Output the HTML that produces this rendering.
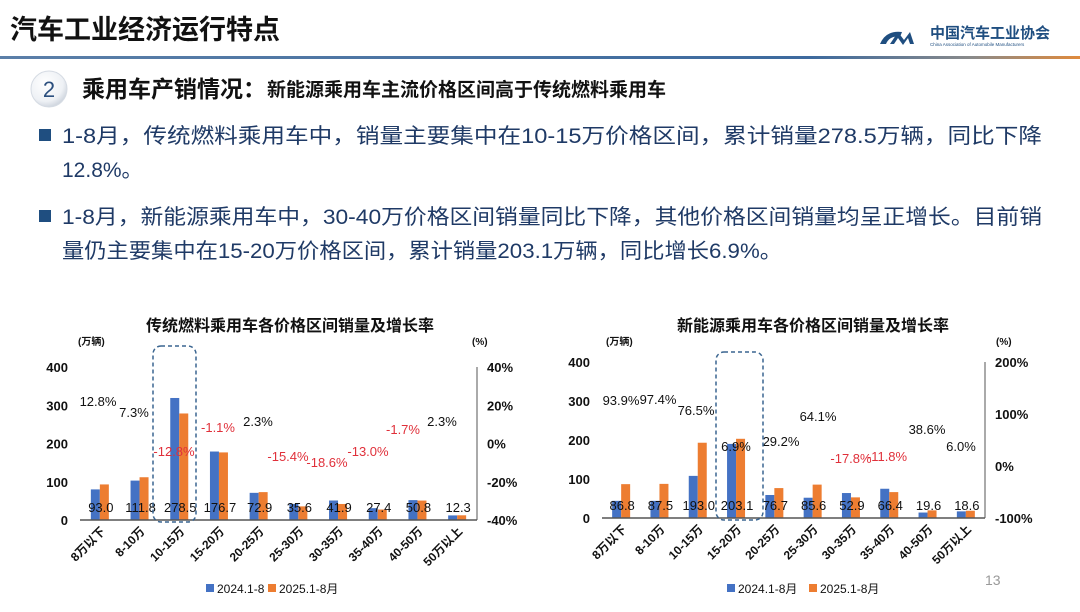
<!DOCTYPE html>
<html><head><meta charset="utf-8">
<style>
html,body{margin:0;padding:0;background:#fff;}
body{width:1080px;height:607px;overflow:hidden;font-family:"Liberation Sans","Noto Sans CJK SC",sans-serif;}
</style></head>
<body>
<svg id="s" width="1080" height="607" viewBox="0 0 1080 607" xmlns="http://www.w3.org/2000/svg" font-family="Liberation Sans, Noto Sans CJK SC, sans-serif">
<defs>
<linearGradient id="lg" x1="0" x2="1" y1="0" y2="0">
<stop offset="0" stop-color="#5b7fa8"/><stop offset="0.75" stop-color="#3d6a9e"/><stop offset="0.9" stop-color="#8a8a8a"/><stop offset="1" stop-color="#e08a3c"/></linearGradient>
<radialGradient id="cg" cx="0.4" cy="0.35" r="0.7"><stop offset="0" stop-color="#ffffff"/><stop offset="0.7" stop-color="#eef1f5"/><stop offset="1" stop-color="#c9d0da"/></radialGradient>
</defs>
<text x="10" y="39" font-size="27" font-weight="bold" fill="#111">汽车工业经济运行特点</text>
<path d="M880 44 q6 -14 22 -12 l-2 5 q-10 -2 -14 7 z M890 44 l8 -12 l6 8 l6 -8 l4 12 l-4 0 l-2 -6 l-5 7 l-5 -7 l-4 6 z" fill="#1f4e80"/>
<text x="930" y="38" font-size="15" font-weight="bold" fill="#1f4e80">中国汽车工业协会</text>
<text x="930" y="46" font-size="4.5" fill="#1f4e80">China Association of Automobile Manufacturers</text>
<rect x="0" y="56" width="1080" height="3" fill="url(#lg)"/>
<circle cx="49" cy="89" r="18" fill="url(#cg)" stroke="#d5dbe3"/>
<text x="49" y="97" font-size="22" fill="#2b4f7e" text-anchor="middle">2</text>
<text x="82" y="97" font-size="23" font-weight="bold" fill="#111">乘用车产销情况：</text>
<text x="267" y="96" font-size="19" font-weight="bold" fill="#111">新能源乘用车主流价格区间高于传统燃料乘用车</text>
<g fill="#1f3a66" font-size="21">
<rect x="39" y="129" width="12" height="12" fill="#1f4e80"/>
<text x="62" y="143" textLength="980" lengthAdjust="spacingAndGlyphs">1-8月，传统燃料乘用车中，销量主要集中在10-15万价格区间，累计销量278.5万辆，同比下降</text>
<text x="62" y="177">12.8%。</text>
<rect x="39" y="210" width="12" height="12" fill="#1f4e80"/>
<text x="62" y="224" textLength="980" lengthAdjust="spacingAndGlyphs">1-8月，新能源乘用车中，30-40万价格区间销量同比下降，其他价格区间销量均呈正增长。目前销</text>
<text x="62" y="258" textLength="720" lengthAdjust="spacingAndGlyphs">量仍主要集中在15-20万价格区间，累计销量203.1万辆，同比增长6.9%。</text>
</g>
<g id="c"></g>
<text x="985" y="585" font-size="14" fill="#999">13</text>
</svg>
<script>
const NS="http://www.w3.org/2000/svg";const g=document.getElementById("c");
function el(t,a,txt){const e=document.createElementNS(NS,t);for(const k in a)e.setAttribute(k,a[k]);if(txt!=null)e.textContent=txt;g.appendChild(e);return e;}
const cats=["8万以下","8-10万","10-15万","15-20万","20-25万","25-30万","30-35万","35-40万","40-50万","50万以上"];
function chart(o){
 const {x0,x1,y0,y400}=o;const cw=(x1-x0)/10;const s=(y0-y400)/400;
 el("text",{x:o.tx,y:331,"font-size":16,"font-weight":"bold","text-anchor":"middle",fill:"#111"},o.title);
 el("text",{x:o.ux,y:345,"font-size":10,"font-weight":"bold",fill:"#111"},"(万辆)");
 el("text",{x:o.px,y:345,"font-size":10,"font-weight":"bold",fill:"#111"},"(%)");
 [0,100,200,300,400].forEach(v=>el("text",{x:x0-12,y:y0-v*s+5,"font-size":13,"font-weight":"bold","text-anchor":"end",fill:"#111"},v));
 const n=o.rl.length-1;
 o.rl.forEach((t,i)=>el("text",{x:x1+10,y:y400+i*(y0-y400)/n+5,"font-size":13,"font-weight":"bold",fill:"#111"},t));
 el("line",{x1:x1,y1:y400,x2:x1,y2:y0,stroke:"#555"});
 for(let i=0;i<10;i++){const c=x0+cw*(i+0.5);
  el("rect",{x:c-9,y:y0-o.b[i]*s,width:9,height:o.b[i]*s,fill:"#4472c4"});
  el("rect",{x:c,y:y0-o.r[i]*s,width:9,height:o.r[i]*s,fill:"#ed7d31"});
  el("text",{x:c+1,y:o.vy,"font-size":13,"text-anchor":"middle",fill:"#111"},o.r[i].toFixed(1));
  const p=o.p[i];el("text",{x:p[0],y:p[1]+5,"font-size":13,"text-anchor":"middle",fill:p[2].startsWith("-")?"#e0303a":"#111"},p[2]);
  el("text",{x:0,y:0,"font-size":12,"font-weight":"bold","text-anchor":"end",fill:"#111",transform:`translate(${c+6},${y0+12}) rotate(-45)`},cats[i]);
 }
 el("line",{x1:x0,y1:y0,x2:x1,y2:y0,stroke:"#555","stroke-width":1.5});
 el("rect",{x:o.bx[0],y:o.bx[1],width:o.bx[2],height:o.bx[3],rx:8,fill:"none",stroke:"#3a6590","stroke-width":1.5,"stroke-dasharray":"4,3"});
 el("rect",{x:o.lx,y:584,width:8,height:8,fill:"#4472c4"});
 el("text",{x:o.lx+11,y:593,"font-size":12,fill:"#111"},o.l1);
 el("rect",{x:o.lx2,y:584,width:8,height:8,fill:"#ed7d31"});
 el("text",{x:o.lx2+11,y:593,"font-size":12,fill:"#111"},"2025.1-8月");
}
chart({x0:80,x1:477,y0:520,y400:367,tx:290,ux:78,px:472,title:"传统燃料乘用车各价格区间销量及增长率",
 rl:["40%","20%","0%","-20%","-40%"],vy:512,
 b:[80,103,319,179,71,42,51,31,52,12],r:[93.0,111.8,278.5,176.7,72.9,35.6,41.9,27.4,50.8,12.3],
 p:[[98,401,"12.8%"],[134,412,"7.3%"],[174,451,"-12.8%"],[218,427,"-1.1%"],[258,421,"2.3%"],[288,456,"-15.4%"],[327,462,"-18.6%"],[368,451,"-13.0%"],[403,429,"-1.7%"],[442,421,"2.3%"]],
 bx:[153,346,43,176],lx:206,l1:"2024.1-8",lx2:268});
chart({x0:602,x1:985,y0:518,y400:362,tx:813,ux:606,px:996,title:"新能源乘用车各价格区间销量及增长率",
 rl:["200%","100%","0%","-100%"],vy:510,
 b:[44,44,108,190,59,52,64,75,14,17],r:[86.8,87.5,193.0,203.1,76.7,85.6,52.9,66.4,19.6,18.6],
 p:[[621,400,"93.9%"],[658,399,"97.4%"],[696,410,"76.5%"],[736,446,"6.9%"],[781,441,"29.2%"],[818,416,"64.1%"],[851,458,"-17.8%"],[887,456,"-11.8%"],[927,429,"38.6%"],[961,446,"6.0%"]],
 bx:[716,352,47,168],lx:727,l1:"2024.1-8月",lx2:809});
</script>
</body></html>
